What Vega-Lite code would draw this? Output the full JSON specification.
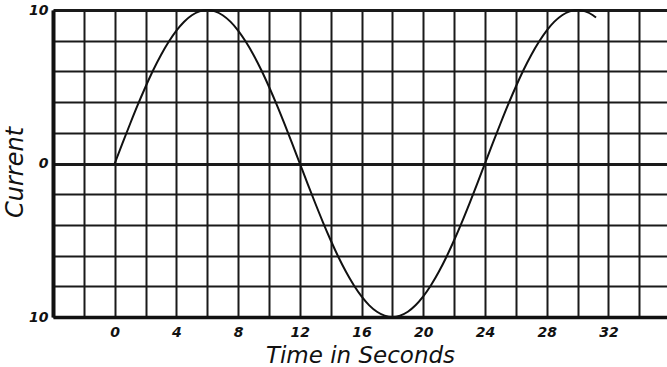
{
  "$schema": "https://vega.github.io/schema/vega-lite/v6.json",
  "width": 614,
  "height": 307,
  "autosize": {"type": "none"},
  "padding": {"left": 53, "top": 10, "right": 0, "bottom": 50},
  "background": "white",
  "config": {"view": {"stroke": null}, "font": "DejaVu Sans"},
  "data": {
    "values": [
      {"t": 0, "current": 0}, {"t": 0.5, "current": 1.31}, {"t": 1, "current": 2.59}, {"t": 1.5, "current": 3.83},
      {"t": 2, "current": 5}, {"t": 2.5, "current": 6.09}, {"t": 3, "current": 7.07}, {"t": 3.5, "current": 7.93},
      {"t": 4, "current": 8.66}, {"t": 4.5, "current": 9.24}, {"t": 5, "current": 9.66}, {"t": 5.5, "current": 9.91},
      {"t": 6, "current": 10}, {"t": 6.5, "current": 9.91}, {"t": 7, "current": 9.66}, {"t": 7.5, "current": 9.24},
      {"t": 8, "current": 8.66}, {"t": 8.5, "current": 7.93}, {"t": 9, "current": 7.07}, {"t": 9.5, "current": 6.09},
      {"t": 10, "current": 5}, {"t": 10.5, "current": 3.83}, {"t": 11, "current": 2.59}, {"t": 11.5, "current": 1.31},
      {"t": 12, "current": 0}, {"t": 12.5, "current": -1.31}, {"t": 13, "current": -2.59}, {"t": 13.5, "current": -3.83},
      {"t": 14, "current": -5}, {"t": 14.5, "current": -6.09}, {"t": 15, "current": -7.07}, {"t": 15.5, "current": -7.93},
      {"t": 16, "current": -8.66}, {"t": 16.5, "current": -9.24}, {"t": 17, "current": -9.66}, {"t": 17.5, "current": -9.91},
      {"t": 18, "current": -10}, {"t": 18.5, "current": -9.91}, {"t": 19, "current": -9.66}, {"t": 19.5, "current": -9.24},
      {"t": 20, "current": -8.66}, {"t": 20.5, "current": -7.93}, {"t": 21, "current": -7.07}, {"t": 21.5, "current": -6.09},
      {"t": 22, "current": -5}, {"t": 22.5, "current": -3.83}, {"t": 23, "current": -2.59}, {"t": 23.5, "current": -1.31},
      {"t": 24, "current": 0}, {"t": 24.5, "current": 1.31}, {"t": 25, "current": 2.59}, {"t": 25.5, "current": 3.83},
      {"t": 26, "current": 5}, {"t": 26.5, "current": 6.09}, {"t": 27, "current": 7.07}, {"t": 27.5, "current": 7.93},
      {"t": 28, "current": 8.66}, {"t": 28.5, "current": 9.24}, {"t": 29, "current": 9.66}, {"t": 29.5, "current": 9.91},
      {"t": 30, "current": 10}, {"t": 30.5, "current": 9.91}, {"t": 31, "current": 9.66}, {"t": 31.2, "current": 9.51}
    ]
  },
  "mark": {"type": "line", "color": "#111111", "strokeWidth": 2, "interpolate": "monotone"},
  "encoding": {
    "x": {
      "field": "t",
      "type": "quantitative",
      "scale": {"domain": [-4, 35.8], "nice": false, "zero": false},
      "axis": {
        "title": "Time in Seconds",
        "values": [-4, -2, 0, 2, 4, 6, 8, 10, 12, 14, 16, 18, 20, 22, 24, 26, 28, 30, 32, 34],
        "labelExpr": "datum.value >= 0 && datum.value <= 32 && datum.value % 4 == 0 ? datum.label : ''",
        "labelOverlap": false,
        "labelFont": "DejaVu Sans",
        "labelFontSize": 14,
        "labelFontStyle": "italic",
        "labelFontWeight": "bold",
        "labelColor": "#111111",
        "labelPadding": 8,
        "labelDx": -3,
        "ticks": false,
        "domain": true,
        "domainColor": "#111111",
        "domainWidth": 3.5,
        "grid": true,
        "gridColor": "#1a1a1a",
        "gridWidth": 2,
        "gridOpacity": 1,
        "titleFont": "DejaVu Sans",
        "titleFontSize": 23,
        "titleFontStyle": "italic",
        "titleFontWeight": "normal",
        "titleColor": "#111111",
        "titleBaseline": "alphabetic",
        "titleY": 45
      }
    },
    "y": {
      "field": "current",
      "type": "quantitative",
      "scale": {"domain": [-10, 10], "nice": false},
      "axis": {
        "title": "Current",
        "values": [-10, -8, -6, -4, -2, 0, 2, 4, 6, 8, 10],
        "labelExpr": "datum.value % 10 == 0 ? format(abs(datum.value), 'd') : ''",
        "labelOverlap": false,
        "labelFont": "DejaVu Sans",
        "labelFontSize": 14,
        "labelFontStyle": "italic",
        "labelFontWeight": "bold",
        "labelColor": "#111111",
        "labelPadding": 5,
        "ticks": false,
        "domain": true,
        "domainColor": "#111111",
        "domainWidth": 4,
        "grid": true,
        "gridColor": "#1a1a1a",
        "gridWidth": {"condition": {"test": "datum.value == 0 || datum.value == 10", "value": 3.2}, "value": 2},
        "gridOpacity": 1,
        "titleFont": "DejaVu Sans",
        "titleFontSize": 24,
        "titleFontStyle": "italic",
        "titleFontWeight": "normal",
        "titleColor": "#111111",
        "titleBaseline": "middle",
        "titleX": -38,
        "titleY": 162,
        "titleAngle": -90
      }
    }
  }
}
